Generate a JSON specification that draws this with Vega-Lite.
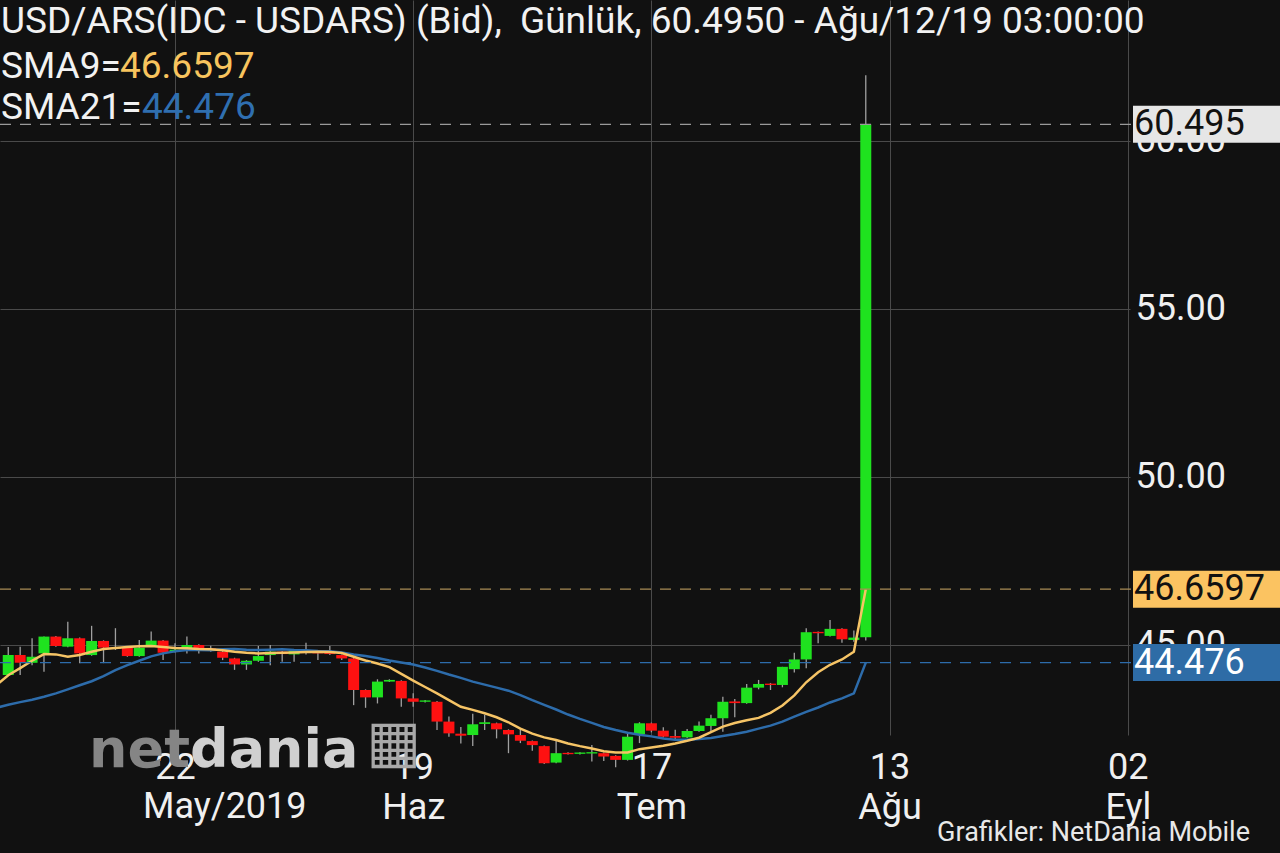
{
  "$schema": "https://vega.github.io/schema/vega-lite/v6.json",
  "width": 1130,
  "height": 735,
  "autosize": "none",
  "padding": {"left": 0, "top": 0, "right": 150, "bottom": 118},
  "background": "#111111",
  "config": {"view": {"stroke": null}, "font": "Roboto", "scale": {"continuousPadding": 0}},
  "resolve": {"axis": {"x": "independent", "y": "independent"}},
  "data": {"values": [
    {"idx": -15, "sma9": 43.80, "sma21": 43.13},
    {"idx": -14, "open": 44.11, "high": 44.94, "low": 44.11, "close": 44.70, "sma9": 44.10, "sma21": 43.22},
    {"idx": -13, "open": 44.70, "high": 44.95, "low": 44.11, "close": 44.47, "sma9": 44.31, "sma21": 43.30},
    {"idx": -12, "open": 44.47, "high": 45.20, "low": 44.40, "close": 44.65, "sma9": 44.53, "sma21": 43.37},
    {"idx": -11, "open": 44.75, "high": 45.25, "low": 44.20, "close": 45.25, "sma9": 44.73, "sma21": 43.46},
    {"idx": -10, "open": 45.25, "high": 45.27, "low": 44.95, "close": 44.97, "sma9": 44.72, "sma21": 43.56},
    {"idx": -9, "open": 44.95, "high": 45.69, "low": 44.93, "close": 45.20, "sma9": 44.65, "sma21": 43.68},
    {"idx": -8, "open": 45.20, "high": 45.22, "low": 44.46, "close": 44.75, "sma9": 44.70, "sma21": 43.80},
    {"idx": -7, "open": 44.70, "high": 45.57, "low": 44.68, "close": 45.12, "sma9": 44.80, "sma21": 43.92},
    {"idx": -6, "open": 45.12, "high": 45.14, "low": 44.46, "close": 44.92, "sma9": 44.88, "sma21": 44.07},
    {"idx": -5, "open": 44.92, "high": 45.50, "low": 44.85, "close": 44.88, "sma9": 44.91, "sma21": 44.25},
    {"idx": -4, "open": 44.92, "high": 44.95, "low": 44.65, "close": 44.67, "sma9": 44.94, "sma21": 44.40},
    {"idx": -3, "open": 44.67, "high": 45.15, "low": 44.65, "close": 44.92, "sma9": 44.96, "sma21": 44.53},
    {"idx": -2, "open": 44.97, "high": 45.40, "low": 44.95, "close": 45.13, "sma9": 44.97, "sma21": 44.66},
    {"idx": -1, "open": 45.13, "high": 45.15, "low": 44.55, "close": 44.77, "sma9": 44.94, "sma21": 44.75},
    {"idx": 0, "open": 44.82, "high": 45.05, "low": 44.78, "close": 44.86, "sma9": 44.91, "sma21": 44.81},
    {"idx": 1, "open": 44.90, "high": 45.25, "low": 44.75, "close": 45.00, "sma9": 44.90, "sma21": 44.85},
    {"idx": 2, "open": 45.00, "high": 45.02, "low": 44.75, "close": 44.90, "sma9": 44.88, "sma21": 44.85},
    {"idx": 3, "open": 44.90, "high": 44.98, "low": 44.80, "close": 44.85, "sma9": 44.87, "sma21": 44.84},
    {"idx": 4, "open": 44.80, "high": 44.85, "low": 44.55, "close": 44.62, "sma9": 44.84, "sma21": 44.87},
    {"idx": 5, "open": 44.60, "high": 44.62, "low": 44.26, "close": 44.42, "sma9": 44.80, "sma21": 44.88},
    {"idx": 6, "open": 44.42, "high": 44.55, "low": 44.26, "close": 44.53, "sma9": 44.77, "sma21": 44.86},
    {"idx": 7, "open": 44.53, "high": 44.97, "low": 44.50, "close": 44.67, "sma9": 44.75, "sma21": 44.85},
    {"idx": 8, "open": 44.70, "high": 45.00, "low": 44.40, "close": 44.80, "sma9": 44.76, "sma21": 44.86},
    {"idx": 9, "open": 44.80, "high": 44.82, "low": 44.50, "close": 44.73, "sma9": 44.77, "sma21": 44.87},
    {"idx": 10, "open": 44.72, "high": 44.85, "low": 44.50, "close": 44.82, "sma9": 44.78, "sma21": 44.85},
    {"idx": 11, "open": 44.82, "high": 45.07, "low": 44.72, "close": 44.76, "sma9": 44.79, "sma21": 44.84},
    {"idx": 12, "open": 44.80, "high": 44.85, "low": 44.55, "close": 44.75, "sma9": 44.80, "sma21": 44.82},
    {"idx": 13, "open": 44.76, "high": 44.97, "low": 44.70, "close": 44.73, "sma9": 44.79, "sma21": 44.81},
    {"idx": 14, "open": 44.70, "high": 44.72, "low": 44.55, "close": 44.60, "sma9": 44.76, "sma21": 44.78},
    {"idx": 15, "open": 44.60, "high": 44.62, "low": 43.21, "close": 43.66, "sma9": 44.65, "sma21": 44.72},
    {"idx": 16, "open": 43.66, "high": 43.68, "low": 43.13, "close": 43.44, "sma9": 44.54, "sma21": 44.67},
    {"idx": 17, "open": 43.44, "high": 43.98, "low": 43.26, "close": 43.91, "sma9": 44.45, "sma21": 44.61},
    {"idx": 18, "open": 43.91, "high": 43.98, "low": 43.90, "close": 43.96, "sma9": 44.34, "sma21": 44.54},
    {"idx": 19, "open": 43.93, "high": 43.95, "low": 43.16, "close": 43.41, "sma9": 44.14, "sma21": 44.48},
    {"idx": 20, "open": 43.41, "high": 43.56, "low": 43.16, "close": 43.31, "sma9": 43.94, "sma21": 44.42},
    {"idx": 21, "open": 43.31, "high": 43.36, "low": 43.29, "close": 43.35, "sma9": 43.75, "sma21": 44.33},
    {"idx": 22, "open": 43.31, "high": 43.33, "low": 42.47, "close": 42.72, "sma9": 43.56, "sma21": 44.23},
    {"idx": 23, "open": 42.72, "high": 42.87, "low": 42.27, "close": 42.37, "sma9": 43.36, "sma21": 44.12},
    {"idx": 24, "open": 42.36, "high": 42.56, "low": 42.07, "close": 42.30, "sma9": 43.16, "sma21": 44.02},
    {"idx": 25, "open": 42.32, "high": 42.95, "low": 41.99, "close": 42.64, "sma9": 43.07, "sma21": 43.91},
    {"idx": 26, "open": 42.65, "high": 42.92, "low": 42.47, "close": 42.70, "sma9": 42.97, "sma21": 43.82},
    {"idx": 27, "open": 42.67, "high": 42.69, "low": 42.22, "close": 42.49, "sma9": 42.85, "sma21": 43.73},
    {"idx": 28, "open": 42.47, "high": 42.49, "low": 41.78, "close": 42.34, "sma9": 42.70, "sma21": 43.64},
    {"idx": 29, "open": 42.32, "high": 42.50, "low": 42.08, "close": 42.15, "sma9": 42.51, "sma21": 43.51},
    {"idx": 30, "open": 42.14, "high": 42.16, "low": 41.85, "close": 42.02, "sma9": 42.36, "sma21": 43.36},
    {"idx": 31, "open": 41.99, "high": 42.01, "low": 41.46, "close": 41.48, "sma9": 42.25, "sma21": 43.22},
    {"idx": 32, "open": 41.50, "high": 42.19, "low": 41.48, "close": 41.78, "sma9": 42.17, "sma21": 43.08},
    {"idx": 33, "open": 41.79, "high": 41.81, "low": 41.74, "close": 41.75, "sma9": 42.07, "sma21": 42.93},
    {"idx": 34, "open": 41.76, "high": 41.81, "low": 41.74, "close": 41.80, "sma9": 41.99, "sma21": 42.80},
    {"idx": 35, "open": 41.77, "high": 42.02, "low": 41.53, "close": 41.81, "sma9": 41.92, "sma21": 42.68},
    {"idx": 36, "open": 41.78, "high": 41.80, "low": 41.55, "close": 41.68, "sma9": 41.84, "sma21": 42.56},
    {"idx": 37, "open": 41.70, "high": 41.72, "low": 41.36, "close": 41.58, "sma9": 41.80, "sma21": 42.47},
    {"idx": 38, "open": 41.58, "high": 42.37, "low": 41.56, "close": 42.27, "sma9": 41.80, "sma21": 42.39},
    {"idx": 39, "open": 42.34, "high": 42.70, "low": 42.08, "close": 42.67, "sma9": 41.90, "sma21": 42.33},
    {"idx": 40, "open": 42.67, "high": 42.69, "low": 42.40, "close": 42.45, "sma9": 41.95, "sma21": 42.28},
    {"idx": 41, "open": 42.45, "high": 42.55, "low": 42.25, "close": 42.27, "sma9": 42.00, "sma21": 42.22},
    {"idx": 42, "open": 42.29, "high": 42.48, "low": 42.16, "close": 42.24, "sma9": 42.07, "sma21": 42.18},
    {"idx": 43, "open": 42.25, "high": 42.50, "low": 42.23, "close": 42.44, "sma9": 42.15, "sma21": 42.18},
    {"idx": 44, "open": 42.44, "high": 42.72, "low": 42.42, "close": 42.60, "sma9": 42.24, "sma21": 42.20},
    {"idx": 45, "open": 42.59, "high": 42.92, "low": 42.42, "close": 42.82, "sma9": 42.41, "sma21": 42.23},
    {"idx": 46, "open": 42.82, "high": 43.46, "low": 42.42, "close": 43.31, "sma9": 42.57, "sma21": 42.29},
    {"idx": 47, "open": 43.32, "high": 43.39, "low": 42.85, "close": 43.27, "sma9": 42.68, "sma21": 42.35},
    {"idx": 48, "open": 43.27, "high": 43.84, "low": 43.25, "close": 43.73, "sma9": 42.76, "sma21": 42.42},
    {"idx": 49, "open": 43.73, "high": 43.96, "low": 43.68, "close": 43.84, "sma9": 42.83, "sma21": 42.51},
    {"idx": 50, "open": 43.85, "high": 43.87, "low": 43.66, "close": 43.81, "sma9": 42.98, "sma21": 42.60},
    {"idx": 51, "open": 43.81, "high": 44.35, "low": 43.74, "close": 44.35, "sma9": 43.20, "sma21": 42.72},
    {"idx": 52, "open": 44.28, "high": 44.77, "low": 44.18, "close": 44.57, "sma9": 43.50, "sma21": 42.87},
    {"idx": 53, "open": 44.57, "high": 45.50, "low": 44.31, "close": 45.38, "sma9": 43.89, "sma21": 43.01},
    {"idx": 54, "open": 45.39, "high": 45.40, "low": 45.05, "close": 45.35, "sma9": 44.19, "sma21": 43.14},
    {"idx": 55, "open": 45.27, "high": 45.74, "low": 45.25, "close": 45.48, "sma9": 44.41, "sma21": 43.29},
    {"idx": 56, "open": 45.48, "high": 45.50, "low": 45.07, "close": 45.17, "sma9": 44.57, "sma21": 43.41},
    {"idx": 57, "open": 45.15, "high": 45.43, "low": 45.10, "close": 45.22, "sma9": 44.80, "sma21": 43.56},
    {"idx": 58, "open": 45.23, "high": 61.96, "low": 45.13, "close": 60.495, "sma9": 46.6597, "sma21": 44.476}
  ]},
  "layer": [
    {
      "mark": {"type": "rule", "color": "#a0a0a0", "strokeWidth": 1.3},
      "encoding": {
        "x": {"field": "idx", "type": "quantitative",
          "scale": {"domain": [-14.693, 80.185], "nice": false, "zero": false, "padding": 0},
          "axis": {"title": null, "orient": "bottom", "values": [0, 20, 40, 60, 80],
            "labelExpr": "datum.value == 0 ? '22' : datum.value == 20 ? ['19', 'Haz'] : datum.value == 40 ? ['17', 'Tem'] : datum.value == 60 ? ['13', 'Ağu'] : ['02', 'Eyl']",
            "grid": true, "gridColor": "#4a4a4a", "gridWidth": 1, "ticks": false, "domain": false,
            "labelFont": "Roboto", "labelFontSize": 36, "labelColor": "#f0f0f0", "labelLineHeight": 40,
            "labelPadding": 15, "labelAlign": "center", "labelFlush": false, "labelOverlap": false}},
        "y": {"field": "low", "type": "quantitative",
          "scale": {"domain": [42.321, 64.196], "nice": false, "zero": false, "padding": 0},
          "axis": {"title": null, "orient": "right", "values": [45, 50, 55, 60], "format": ".2f",
            "grid": true, "gridColor": "#4a4a4a", "gridWidth": 1, "ticks": false, "domain": false,
            "labelFont": "Roboto", "labelFontSize": 36, "labelColor": "#f0f0f0",
            "labelPadding": 5, "labelAlign": "left", "labelBaseline": "middle", "labelOverlap": false}},
        "y2": {"field": "high"}
      }
    },
    {
      "mark": {"type": "bar", "width": 11},
      "encoding": {
        "x": {"field": "idx", "type": "quantitative", "axis": null},
        "y": {"field": "open", "type": "quantitative", "axis": null},
        "y2": {"field": "close"},
        "color": {"condition": {"test": "datum.close >= datum.open", "value": "#1fe21f"}, "value": "#fe1111"}
      }
    },
    {
      "data": {"values": [{}]},
      "mark": {"type": "text", "text": "net", "font": "DejaVu Sans", "fontWeight": "bold", "fontSize": 54, "color": "#858585", "align": "right", "baseline": "middle"},
      "encoding": {
        "x": {"datum": 1.26, "type": "quantitative", "axis": null},
        "y": {"datum": 41.85, "type": "quantitative", "axis": null}
      }
    },
    {
      "data": {"values": [{}]},
      "mark": {"type": "text", "text": "dania", "font": "DejaVu Sans", "fontWeight": "bold", "fontSize": 54, "color": "#d0d0d0", "align": "left", "baseline": "middle"},
      "encoding": {
        "x": {"datum": 1.26, "type": "quantitative", "axis": null},
        "y": {"datum": 41.85, "type": "quantitative", "axis": null}
      }
    },
    {
      "data": {"values": [{}]},
      "mark": {"type": "text", "text": "▦", "font": "DejaVu Sans", "fontSize": 58, "color": "#a8a8a8", "align": "center", "baseline": "middle"},
      "encoding": {
        "x": {"datum": 18.39, "type": "quantitative", "axis": null},
        "y": {"datum": 42.05, "type": "quantitative", "axis": null}
      }
    },
    {
      "data": {"values": [{}]},
      "mark": {"type": "text", "text": "May/2019", "font": "Roboto", "fontSize": 36, "color": "#f0f0f0", "align": "left", "baseline": "middle"},
      "encoding": {
        "x": {"datum": -2.687, "type": "quantitative", "axis": null},
        "y": {"datum": 40.18, "type": "quantitative", "axis": null}
      }
    },
    {
      "data": {"values": [{}]},
      "mark": {"type": "text", "text": "Grafikler: NetDania Mobile", "font": "Roboto", "fontSize": 27, "color": "#e8e8e8", "align": "right", "baseline": "middle"},
      "encoding": {
        "x": {"datum": 90.26, "type": "quantitative", "axis": null},
        "y": {"datum": 39.40, "type": "quantitative", "axis": null}
      }
    },
    {
      "mark": {"type": "line", "color": "#2d6cab", "strokeWidth": 2.5},
      "encoding": {
        "x": {"field": "idx", "type": "quantitative", "axis": null},
        "y": {"field": "sma21", "type": "quantitative", "axis": null}
      }
    },
    {
      "mark": {"type": "line", "color": "#f6c466", "strokeWidth": 2.5},
      "encoding": {
        "x": {"field": "idx", "type": "quantitative", "axis": null},
        "y": {"field": "sma9", "type": "quantitative", "axis": null}
      }
    },
    {
      "data": {"name": "last", "values": [
        {"series": "last", "v": 60.495, "label": "60.495"},
        {"series": "sma9", "v": 46.6597, "label": "46.6597"},
        {"series": "sma21", "v": 44.476, "label": "44.476"}
      ]},
      "layer": [
        {
          "mark": {"type": "rule", "strokeDash": [11, 9], "strokeWidth": 1.2},
          "encoding": {
            "x": {"datum": -14.693, "type": "quantitative", "axis": null},
            "x2": {"datum": 80.437},
            "y": {"field": "v", "type": "quantitative", "axis": null},
            "color": {"condition": [
              {"test": "datum.series === 'sma9'", "value": "#a88b55"},
              {"test": "datum.series === 'sma21'", "value": "#2d6cab"}
            ], "value": "#9a9a9a"}
          }
        },
        {
          "mark": {"type": "rect", "yOffset": -18.5, "y2Offset": 18.5},
          "encoding": {
            "x": {"datum": 80.437, "type": "quantitative", "axis": null},
            "x2": {"datum": 92.78},
            "y": {"field": "v", "type": "quantitative", "axis": null},
            "y2": {"field": "v"},
            "color": {"condition": [
              {"test": "datum.series === 'sma9'", "value": "#fbc361"},
              {"test": "datum.series === 'sma21'", "value": "#2e6ca6"}
            ], "value": "#e6e6e6"}
          }
        },
        {
          "mark": {"type": "text", "font": "Roboto", "fontSize": 36, "align": "left", "baseline": "middle"},
          "encoding": {
            "x": {"datum": 80.52, "type": "quantitative", "axis": null},
            "y": {"field": "v", "type": "quantitative", "axis": null},
            "text": {"field": "label"},
            "color": {"condition": {"test": "datum.series === 'sma21'", "value": "#ffffff"}, "value": "#111111"}
          }
        }
      ]
    },
    {
      "data": {"values": [{}]},
      "mark": {"type": "text", "text": "USD/ARS(IDC - USDARS) (Bid), \u00a0Günlük, 60.4950 - Ağu/12/19 03:00:00", "font": "Roboto", "fontSize": 37, "color": "#f2f2f2", "align": "left", "baseline": "middle"},
      "encoding": {
        "x": {"datum": -14.609, "type": "quantitative", "axis": null},
        "y": {"datum": 63.541, "type": "quantitative", "axis": null}
      }
    },
    {
      "data": {"values": [{}]},
      "mark": {"type": "text", "text": "SMA9=", "font": "Roboto", "fontSize": 37, "color": "#f2f2f2", "align": "left", "baseline": "middle"},
      "encoding": {
        "x": {"datum": -14.609, "type": "quantitative", "axis": null},
        "y": {"datum": 62.202, "type": "quantitative", "axis": null}
      }
    },
    {
      "data": {"values": [{}]},
      "mark": {"type": "text", "text": "46.6597", "font": "Roboto", "fontSize": 37, "color": "#f8c45e", "align": "left", "baseline": "middle"},
      "encoding": {
        "x": {"datum": -4.618, "type": "quantitative", "axis": null},
        "y": {"datum": 62.202, "type": "quantitative", "axis": null}
      }
    },
    {
      "data": {"values": [{}]},
      "mark": {"type": "text", "text": "SMA21=", "font": "Roboto", "fontSize": 37, "color": "#f2f2f2", "align": "left", "baseline": "middle"},
      "encoding": {
        "x": {"datum": -14.609, "type": "quantitative", "axis": null},
        "y": {"datum": 60.982, "type": "quantitative", "axis": null}
      }
    },
    {
      "data": {"values": [{}]},
      "mark": {"type": "text", "text": "44.476", "font": "Roboto", "fontSize": 37, "color": "#2f6fb0", "align": "left", "baseline": "middle"},
      "encoding": {
        "x": {"datum": -2.77, "type": "quantitative", "axis": null},
        "y": {"datum": 60.982, "type": "quantitative", "axis": null}
      }
    }
  ]
}
